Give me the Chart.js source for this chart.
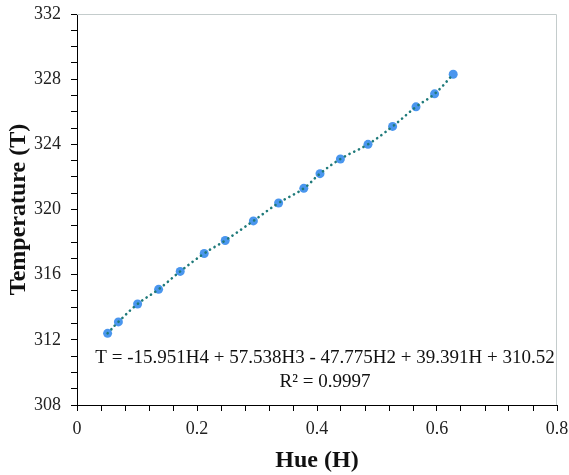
<!DOCTYPE html>
<html>
<head>
<meta charset="utf-8">
<script src="https://cdn.jsdelivr.net/npm/chart.js@4"></script>
<style>
    html, body { margin: 0; padding: 0; background: #fff; }
    #wrap { width: 569px; height: 475px; }
</style>
</head>
<body>
<div id="wrap"><canvas id="hue-temp"></canvas></div>
<script>
const hueValues = [0.051, 0.069, 0.101, 0.136, 0.172, 0.212, 0.247, 0.294, 0.336,
    0.378, 0.405, 0.439, 0.485, 0.526, 0.565, 0.596, 0.627];
const tempValues = [312.4, 313.1, 314.2, 315.1, 316.2, 317.3, 318.1, 319.3, 320.4,
    321.3, 322.2, 323.1, 324.0, 325.1, 326.3, 327.1, 328.3];

// Axis settings and text
const xRange = [0, 0.8];
const yRange = [308, 332];
const equationText = 'T = -15.951H4 + 57.538H3 - 47.775H2 + 39.391H + 310.52';
const r2Text = 'R\u00b2 = 0.9997';

const points = hueValues.map((h, i) => ({ x: h, y: tempValues[i] }));

const serif = '"Liberation Serif", "DejaVu Serif", serif';

// Gray frame on top/right + fit equation text
const framePlugin = {
    id: 'frame',
    beforeDatasetsDraw(chart) {
        const { ctx, chartArea: a } = chart;
        ctx.save();
        ctx.strokeStyle = '#c4cccc';
        ctx.lineWidth = 1;
        ctx.beginPath();
        ctx.moveTo(a.left, a.top + 0.5);
        ctx.lineTo(a.right - 0.5, a.top + 0.5);
        ctx.lineTo(a.right - 0.5, a.bottom);
        ctx.stroke();
        ctx.restore();
    },
    afterDatasetsDraw(chart) {
        const { ctx, chartArea: a } = chart;
        const cx = (a.left + a.right) / 2 + 8;
        ctx.save();
        ctx.fillStyle = '#111';
        ctx.font = '19px ' + serif;
        ctx.textAlign = 'center';
        ctx.textBaseline = 'middle';
        ctx.fillText(equationText, cx, a.bottom - 47);
        ctx.fillText(r2Text, cx, a.bottom - 23);
        ctx.restore();
    }
};

new Chart(document.getElementById('hue-temp'), {
    type: 'scatter',
    data: {
        datasets: [
            {
                // trendline (dotted)
                data: points,
                showLine: true,
                tension: 0.4,
                borderColor: '#1f7a7a',
                borderWidth: 2.6,
                borderDash: [0.1, 5.2],
                borderCapStyle: 'round',
                pointRadius: 0,
                fill: false
            },
            {
                data: points,
                pointRadius: 4.5,
                pointBackgroundColor: '#4a96ee',
                pointBorderColor: '#4a96ee',
                pointBorderWidth: 0
            }
        ]
    },
    options: {
        responsive: true,
        maintainAspectRatio: false,
        animation: false,
        layout: { padding: { left: 0, top: 14, right: 12, bottom: 0 } },
        plugins: {
            legend: { display: false },
            tooltip: { enabled: false }
        },
        scales: {
            x: {
                type: 'linear',
                min: xRange[0],
                max: xRange[1],
                afterFit: (s) => {
                    s.height = 70;
                    s.paddingLeft = 0;
                    s.paddingRight = 0;
                },
                border: { color: '#000', width: 1 },
                grid: { drawOnChartArea: false, color: '#000', tickLength: 6 },
                ticks: {
                    stepSize: 0.04,
                    autoSkip: false,
                    maxRotation: 0,
                    color: '#222',
                    font: { family: serif, size: 18 },
                    padding: 7,
                    callback: (v) => {
                        const k = v / 0.2;
                        if (Math.abs(k - Math.round(k)) > 1e-6) return '';
                        return v === 0 ? '0' : v.toFixed(1);
                    }
                },
                title: {
                    display: true,
                    text: 'Hue (H)',
                    color: '#111',
                    font: { family: serif, size: 24, weight: 'bold' },
                    padding: { top: 0, bottom: 0 }
                }
            },
            y: {
                min: yRange[0],
                max: yRange[1],
                afterFit: (s) => {
                    s.width = 77;
                    s.paddingTop = 0;
                    s.paddingBottom = 0;
                },
                border: { color: '#000', width: 1 },
                grid: { drawOnChartArea: false, color: '#000', tickLength: 6 },
                ticks: {
                    stepSize: 1,
                    autoSkip: false,
                    color: '#222',
                    font: { family: serif, size: 18 },
                    padding: 10,
                    callback: (v) => (v % 4 === 0 ? String(v) : '')
                },
                title: {
                    display: true,
                    text: 'Temperature (T)',
                    color: '#111',
                    font: { family: serif, size: 24, weight: 'bold' },
                    padding: { top: 4, bottom: 0 }
                }
            }
        }
    },
    plugins: [framePlugin]
});
</script>
</body>
</html>
